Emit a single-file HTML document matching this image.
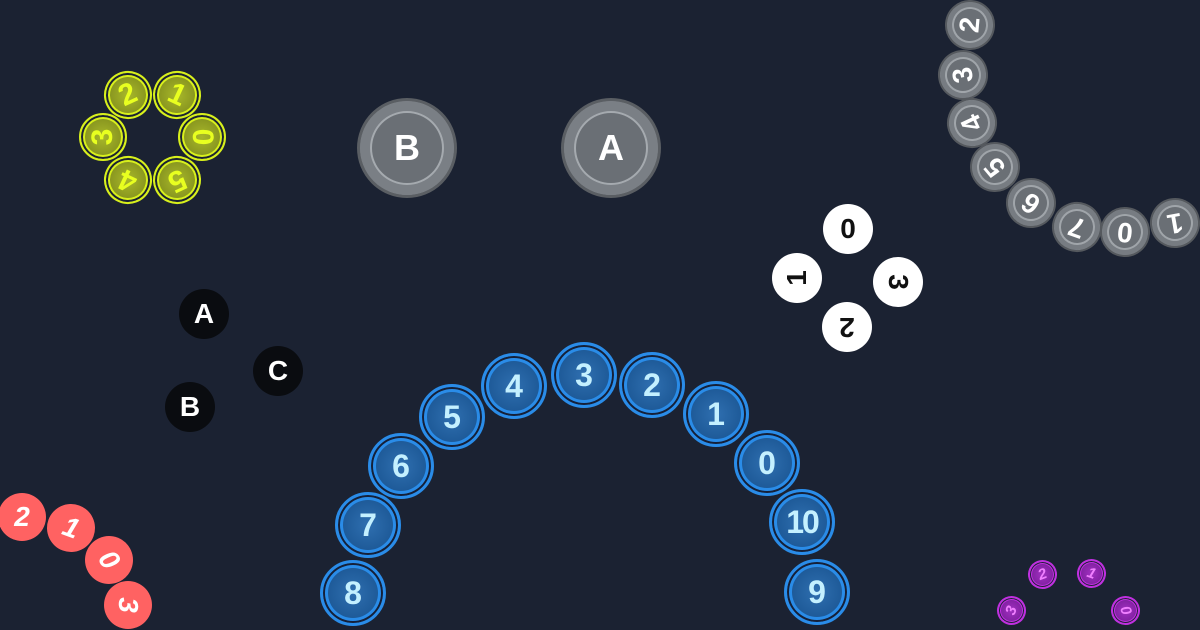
<!DOCTYPE html>
<html><head><meta charset="utf-8"><style>
body{margin:0;width:1200px;height:630px;background:#1b2232;overflow:hidden;position:relative;font-family:"Liberation Sans",sans-serif}
.c{position:absolute;border-radius:50%;display:flex;align-items:center;justify-content:center;font-weight:bold;box-sizing:border-box}
.y{width:48px;height:48px;border:2px solid #d8f01c;background:radial-gradient(circle,#a8b82a 0%,#7e8a1c 80%);box-shadow:inset 0 0 0 2px #1b2232,inset 0 0 0 4px #d8f01c;color:#e8ff20;font-size:30px}
.g{width:100px;height:100px;background:#6a6f75;border:3px solid #5a5e63;box-shadow:inset 0 0 0 10px #7a7f85,inset 0 0 0 12px #a5aaaf;color:#fff;font-size:36px}
.gs{width:50px;height:50px;background:#6a6f75;border:2px solid #55595e;box-shadow:inset 0 0 0 5px #777c82,inset 0 0 0 7px #a0a5aa;color:#fff;font-size:28px}
.k{width:50px;height:50px;background:#0a0c10;color:#fff;font-size:28px}
.w{width:50px;height:50px;background:#fff;color:#111;font-size:28px}
.b{width:66px;height:66px;border:3px solid #2a8ce8;background:radial-gradient(circle,#2f6fb0 0%,#1e5a98 60%,#2a80d0 90%);box-shadow:inset 0 0 0 2px #152038,inset 0 0 0 5px #2a8ce8;color:#c4f0ff;font-size:32px}
.r{width:48px;height:48px;background:#ff6262;color:#fff;font-size:28px;font-style:italic}
.p{width:29px;height:29px;border:2px solid #c030e0;background:radial-gradient(circle,#a030c0,#701890);box-shadow:inset 0 0 0 1px #1b2232,inset 0 0 0 2px #c030e0;color:#f080ff;font-size:15px;font-style:italic}
</style></head><body>
<div class="c y" style="left:104px;top:71px;transform:rotate(-25deg)">2</div>
<div class="c y" style="left:153px;top:71px;transform:rotate(25deg)">1</div>
<div class="c y" style="left:178px;top:113px;transform:rotate(90deg)">0</div>
<div class="c y" style="left:153px;top:156px;transform:rotate(155deg)">5</div>
<div class="c y" style="left:104px;top:156px;transform:rotate(-155deg)">4</div>
<div class="c y" style="left:79px;top:113px;transform:rotate(-90deg)">3</div>

<div class="c g" style="left:357px;top:98px">B</div>
<div class="c g" style="left:561px;top:98px">A</div>

<div class="c gs" style="left:945px;top:0px;transform:rotate(-85deg)">2</div>
<div class="c gs" style="left:938px;top:50px;transform:rotate(-100deg)">3</div>
<div class="c gs" style="left:947px;top:98px;transform:rotate(-115deg)">4</div>
<div class="c gs" style="left:970px;top:142px;transform:rotate(-130deg)">5</div>
<div class="c gs" style="left:1006px;top:178px;transform:rotate(-145deg)">6</div>
<div class="c gs" style="left:1052px;top:202px;transform:rotate(-160deg)">7</div>
<div class="c gs" style="left:1100px;top:207px;transform:rotate(-175deg)">0</div>
<div class="c gs" style="left:1150px;top:198px;transform:rotate(170deg)">1</div>

<div class="c k" style="left:179px;top:289px">A</div>
<div class="c k" style="left:253px;top:346px">C</div>
<div class="c k" style="left:165px;top:382px">B</div>

<div class="c w" style="left:823px;top:204px">0</div>
<div class="c w" style="left:772px;top:253px;transform:rotate(-90deg)">1</div>
<div class="c w" style="left:873px;top:257px;transform:rotate(90deg)">3</div>
<div class="c w" style="left:822px;top:302px;transform:rotate(180deg)">2</div>

<div class="c b" style="left:320px;top:560px">8</div>
<div class="c b" style="left:335px;top:492px">7</div>
<div class="c b" style="left:368px;top:433px">6</div>
<div class="c b" style="left:419px;top:384px">5</div>
<div class="c b" style="left:481px;top:353px">4</div>
<div class="c b" style="left:551px;top:342px">3</div>
<div class="c b" style="left:619px;top:352px">2</div>
<div class="c b" style="left:683px;top:381px">1</div>
<div class="c b" style="left:734px;top:430px">0</div>
<div class="c b" style="left:769px;top:489px;letter-spacing:-2px">10</div>
<div class="c b" style="left:784px;top:559px">9</div>

<div class="c r" style="left:-2px;top:493px">2</div>
<div class="c r" style="left:47px;top:504px;transform:rotate(20deg)">1</div>
<div class="c r" style="left:85px;top:536px;transform:rotate(55deg)">0</div>
<div class="c r" style="left:104px;top:581px;transform:rotate(90deg)">3</div>

<div class="c p" style="left:1028px;top:560px;transform:rotate(-20deg)">2</div>
<div class="c p" style="left:1077px;top:559px;transform:rotate(20deg)">1</div>
<div class="c p" style="left:997px;top:596px;transform:rotate(-70deg)">3</div>
<div class="c p" style="left:1111px;top:596px;transform:rotate(70deg)">0</div>
</body></html>
